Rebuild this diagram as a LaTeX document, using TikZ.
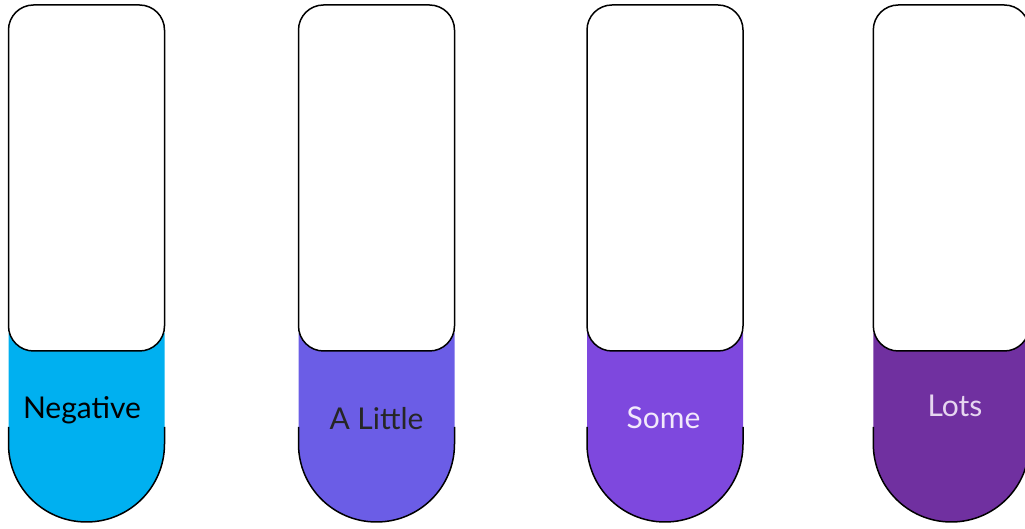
\documentclass[tikz,border=0pt]{standalone}
\usepackage{fontspec}
\setmainfont{Lato}
\definecolor{cNeg}{HTML}{00B0F0}
\definecolor{cLittle}{HTML}{6B5DE6}
\definecolor{cSome}{HTML}{7E48DE}
\definecolor{cLots}{HTML}{7030A0}
\definecolor{tSome}{HTML}{F2E9FB}
\definecolor{tLots}{HTML}{E6D6F0}
\tikzset{
  outline/.style={draw=black,line width=1.5pt},
  glass/.style={fill=white,draw=black,line width=1.5pt,rounded corners=25pt},
  label/.style={anchor=base,font=\fontsize{30}{34}\selectfont,inner sep=0pt}
}
\newcommand{\tube}[2]{%
  \fill[#2] (#1-78,196) -- (#1-78,85) arc[start angle=180,end angle=360,radius=78] -- (#1+78,196) -- cycle;
  \draw[outline] (#1-78,102) -- (#1-78,85) arc[start angle=180,end angle=360,radius=78] -- (#1+78,102);
  \draw[glass] (#1-78,178) rectangle (#1+78,524);
}
\begin{document}
\begin{tikzpicture}[x=1pt,y=1pt]
\useasboundingbox (0,0) rectangle (1025,529);
\clip (0,0) rectangle (1025,529);
\tube{86.5}{cNeg}
\tube{376.5}{cLittle}
\tube{665}{cSome}
\tube{951.3}{cLots}
\node[label,text=black] (neg) at (82,110) {Negative};
\node[label,text=black!85] (little) at (376.5,99) {A Little};
\node[label,text=tSome] (some) at (663.5,100) {Some};
\node[label,text=tLots] (lots) at (955,112) {Lots};
\end{tikzpicture}
\end{document}
